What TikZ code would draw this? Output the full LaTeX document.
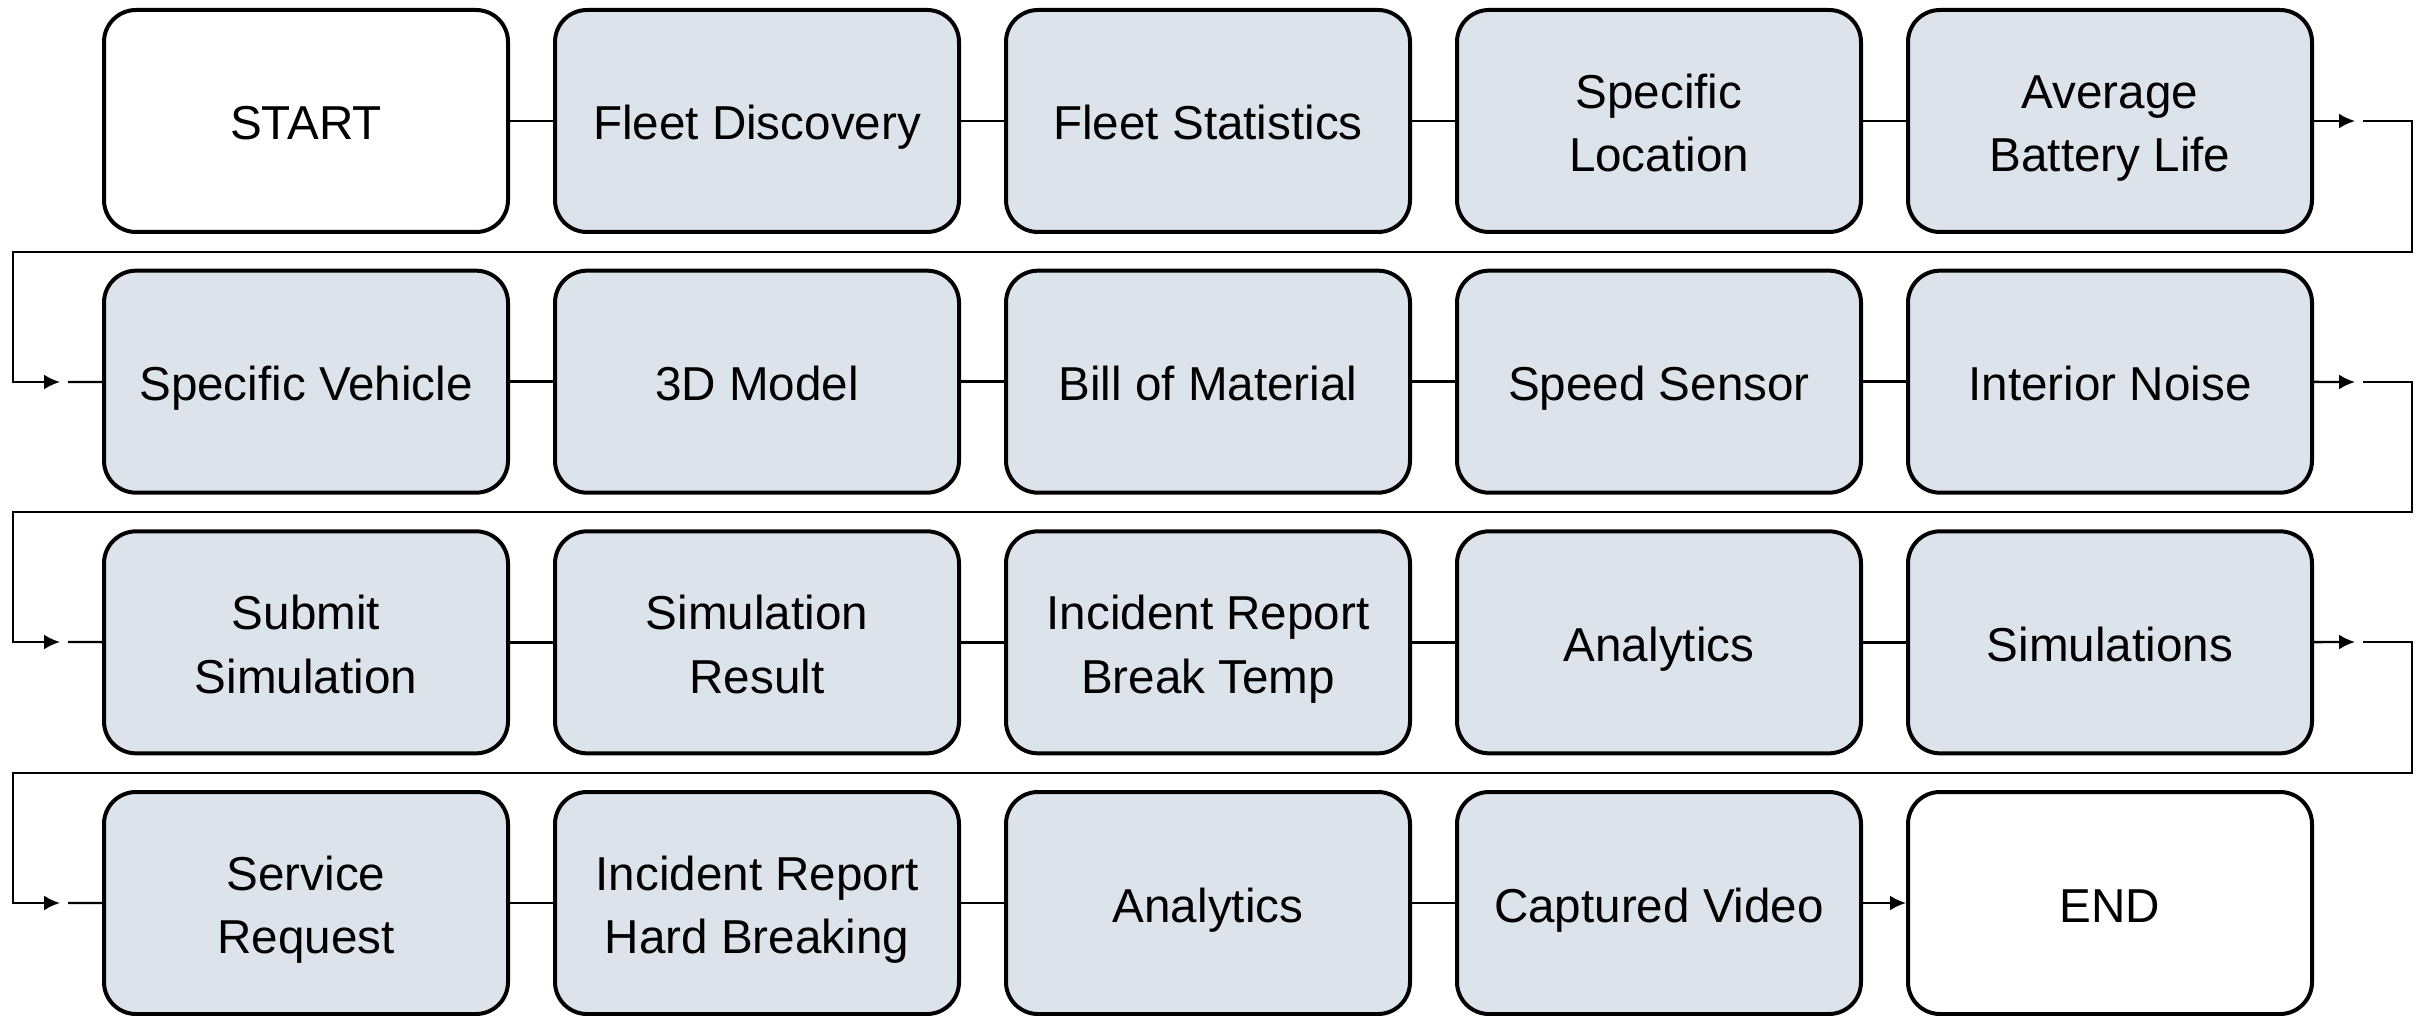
\documentclass[tikz,border=0pt]{standalone}
\usepackage{fontspec}
\setmainfont{Liberation Sans}
\usetikzlibrary{arrows.meta}
\definecolor{stepfill}{HTML}{DCE3EB}
\newcommand{\stepstrut}{\rule[-5.5pt]{0pt}{30pt}}
\tikzset{>={Latex[length=8pt,width=7.5pt]}}
\tikzset{
  box/.style={draw,line width=2pt,rounded corners=16pt,minimum width=202pt,minimum height=111pt,
    align=center,font=\fontsize{23.8}{31.7}\selectfont,fill=stepfill},
  termbox/.style={box,fill=white},
  link/.style={line width=1.2pt}
}

\begin{document}
\begin{tikzpicture}[x=0.5pt,y=-0.5pt]
    \useasboundingbox (0,0) rectangle (2422,1016);
    % steps, row by row
    \foreach \r/\c/\s/\t in {1/1/termbox/START, 1/2/box/Fleet Discovery, 1/3/box/Fleet Statistics,
        1/4/box/{Specific\\Location}, 1/5/box/{Average\\Battery Life},
        2/1/box/Specific Vehicle, 2/2/box/3D Model, 2/3/box/Bill of Material,
        2/4/box/Speed Sensor, 2/5/box/Interior Noise,
        3/1/box/{Submit\\Simulation}, 3/2/box/{Simulation\\Result}, 3/3/box/{Incident Report\\Break Temp},
        3/4/box/Analytics, 3/5/box/Simulations,
        4/1/box/{Service\\Request}, 4/2/box/{Incident Report\\Hard Breaking}, 4/3/box/Analytics,
        4/4/box/Captured Video, 4/5/termbox/END} {
      \pgfmathsetmacro{\xx}{306+451*(\c-1)}
      \pgfmathsetmacro{\yy}{121+260.67*(\r-1)}
      \node[\s] (n-\r-\c) at (\xx,\yy) {\stepstrut\t\stepstrut};
    }
    % links inside a row
    \foreach \r/\last in {1/4,2/4,3/4,4/3} {
      \foreach \c in {1,...,\last} {
        \pgfmathtruncatemacro{\d}{\c+1}
        \draw[link] (n-\r-\c) -- (n-\r-\d);
      }
    }
    \draw[link,->] (n-4-4) -- (n-4-5);
    % wrap to the next row
    \foreach \r/\y/\w/\n in {1/121/252/382, 2/382/512/642, 3/642/773/903} {
      \pgfmathtruncatemacro{\nr}{\r+1}
      \coordinate (tipR\r) at (2355,\y);
      \coordinate (resR\r) at (2363,\y);
      \coordinate (tipL\r) at (60,\n);
      \coordinate (resL\r) at (68,\n);
      \draw[link,->] (n-\r-5) -- (tipR\r);
      \draw[link,->] (resR\r) -- (2412,\y) |- (13,\w) |- (tipL\r);
      \draw[link] (resL\r) -- (n-\nr-1);
    }
\end{tikzpicture}
\end{document}
